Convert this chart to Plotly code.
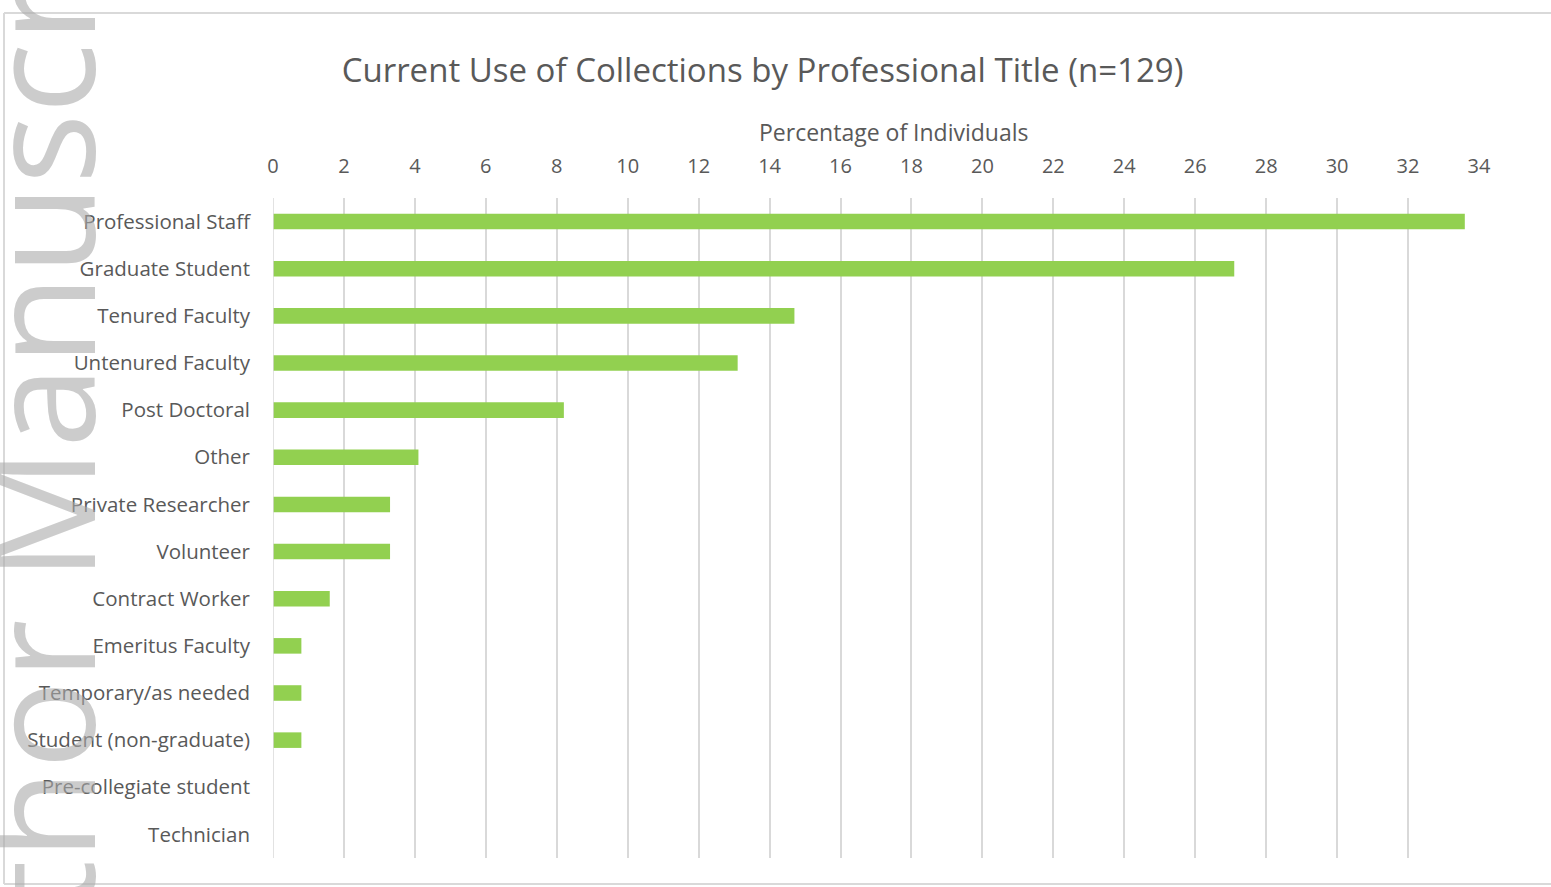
import plotly.graph_objects as go

# Share of respondents (%) by professional title, n=129
titles = [
    "Professional Staff", "Graduate Student", "Tenured Faculty", "Untenured Faculty",
    "Post Doctoral", "Other", "Private Researcher", "Volunteer", "Contract Worker",
    "Emeritus Faculty", "Temporary/as needed", "Student (non-graduate)",
    "Pre-collegiate student", "Technician",
]
percentages = [33.6, 27.1, 14.7, 13.1, 8.2, 4.1, 3.3, 3.3, 1.6, 0.8, 0.8, 0.8, 0.0, 0.0]
x_ticks = list(range(0, 35, 2))

W, H = 1551, 887
M_L, M_R, M_T, M_B = 273, 72, 198, 29
PW, PH = W - M_L - M_R, H - M_T - M_B

def px_x(px):
    return (px - M_L) / PW

def px_y(py):
    return (H - M_B - py) / PH

TEXT = "#595959"
FONT = "Open Sans"

fig = go.Figure(
    go.Bar(
        x=percentages,
        y=titles,
        orientation="h",
        marker=dict(color="#92d050", line=dict(width=0)),
        width=0.33,
        hoverinfo="x+y",
    )
)

fig.update_layout(
    width=W,
    height=H,
    margin=dict(l=M_L, r=M_R, t=M_T, b=M_B),
    paper_bgcolor="white",
    plot_bgcolor="white",
    showlegend=False,
    font=dict(family=FONT, color=TEXT, size=20),
    title=dict(
        text="Current Use of Collections by Professional Title (n=129)",
        font=dict(family=FONT, size=33, color=TEXT),
        x=(344 + 1181) / 2 / W,
        xanchor="center",
        y=1 - 70 / H,
        yanchor="middle",
    ),
    xaxis=dict(
        side="top",
        range=[0, 34],
        tickvals=x_ticks,
        ticktext=[str(v) for v in x_ticks],
        showgrid=True,
        gridcolor="#d9d9d9",
        gridwidth=1.5,
        zeroline=False,
        showline=False,
        ticks="",
        ticklabelstandoff=20,
        tickfont=dict(size=20, color=TEXT),
        fixedrange=True,
    ),
    yaxis=dict(
        autorange="reversed",
        showgrid=False,
        zeroline=False,
        showline=False,
        ticks="",
        ticklabelstandoff=22,
        tickfont=dict(size=20.5, color=TEXT),
        fixedrange=True,
    ),
)

# Axis title above the top tick labels
fig.add_annotation(
    text="Percentage of Individuals",
    xref="paper", yref="paper",
    x=px_x(894), y=px_y(132),
    xanchor="center", yanchor="middle",
    showarrow=False,
    font=dict(family=FONT, size=23, color=TEXT),
)

# Vertical baseline at x = 0
fig.add_shape(type="line", xref="x", yref="paper", x0=0, x1=0, y0=0, y1=1,
              line=dict(color="#d9d9d9", width=1.5))

# Chart frame (open on the right)
frame = dict(color="#d9d9d9", width=2)
fig.add_shape(type="line", xref="paper", yref="paper",
              x0=px_x(4), x1=px_x(W + 5), y0=px_y(13), y1=px_y(13), line=frame)
fig.add_shape(type="line", xref="paper", yref="paper",
              x0=px_x(4), x1=px_x(4), y0=px_y(13), y1=px_y(884), line=frame)
fig.add_shape(type="line", xref="paper", yref="paper",
              x0=px_x(4), x1=px_x(W + 5), y0=px_y(884), y1=px_y(884), line=frame)

# Rotated watermark along the left edge
fig.add_annotation(
    text="Author Manuscript",
    xref="paper", yref="paper",
    x=px_x(37), y=px_y(450),
    xanchor="center", yanchor="middle",
    textangle=-90,
    showarrow=False,
    font=dict(family=FONT, size=148, color="rgba(170,170,170,0.6)"),
)

fig.write_html("out.html")
